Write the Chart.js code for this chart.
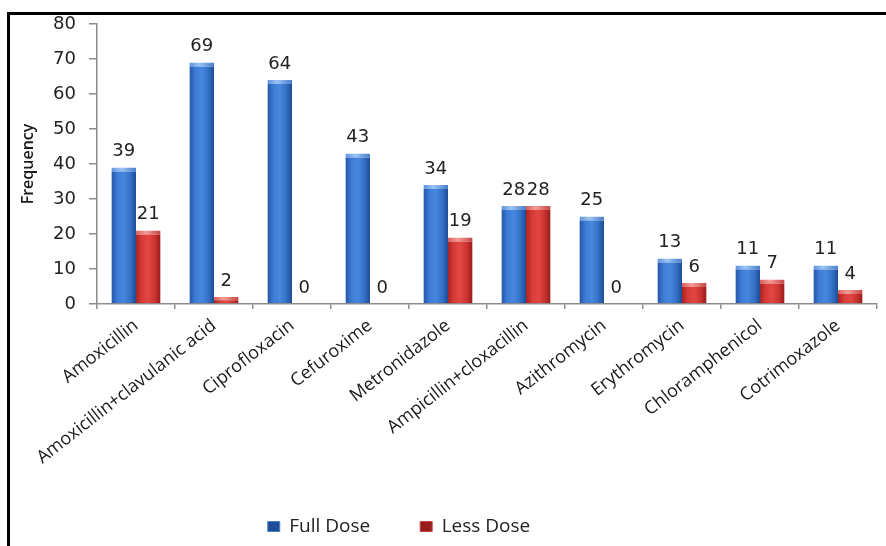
<!DOCTYPE html>
<html>
<head>
<meta charset="utf-8">
<script src="https://cdn.jsdelivr.net/npm/chart.js@4/dist/chart.umd.min.js"></script>
<style>
  html, body { margin: 0; padding: 0; background: #fff; }
  body { width: 886px; height: 546px; position: relative; overflow: hidden; }
  #frame {
    position: absolute; left: 7px; top: 12px; width: 1000px; height: 700px;
    border-left: 3px solid #000; border-top: 3px solid #000;
    pointer-events: none;
  }
  #chart { position: absolute; left: 0; top: 0; }
</style>
</head>
<body>
<canvas id="chart" width="886" height="546"></canvas>
<div id="frame"></div>
<script>
// Antibiotics prescribed, split by full vs. reduced dose
const categories = [
  'Amoxicillin', 'Amoxicillin+clavulanic acid', 'Ciprofloxacin', 'Cefuroxime',
  'Metronidazole', 'Ampicillin+cloxacillin', 'Azithromycin', 'Erythromycin',
  'Chloramphenicol', 'Cotrimoxazole'
];
const fullDose = [39, 69, 64, 43, 34, 28, 25, 13, 11, 11];
const lessDose = [21, 2, 0, 0, 19, 28, 0, 6, 7, 4];
const yTicks = [0, 10, 20, 30, 40, 50, 60, 70, 80];

const CAT_PCT = 0.63;

// Cylinder-like horizontal shading across each bar
function barShade(stops, solid) {
  return (c) => {
    const chart = c.chart;
    const xs = chart.scales && chart.scales.x;
    if (c.type !== 'data' || !xs || !xs.width) return solid;
    const barW = (xs.width / categories.length) * CAT_PCT / 2;
    const mid = xs.getPixelForValue(c.dataIndex);
    const left = c.datasetIndex === 0 ? mid - barW : mid;
    const g = chart.ctx.createLinearGradient(left, 0, left + barW, 0);
    stops.forEach(([p, col]) => g.addColorStop(p, col));
    return g;
  };
}

const blueStops = [[0, '#2356a8'], [0.25, '#3e7dd6'], [0.5, '#4787de'], [0.75, '#3673c8'], [1, '#1d4c98']];
const redStops  = [[0, '#a82422'], [0.25, '#d93c38'], [0.5, '#e24743'], [0.75, '#cc3431'], [1, '#961d1b']];
const blueCap   = [[0, '#5f93dc'], [0.4, '#9cc3f4'], [1, '#4a7fca']];
const redCap    = [[0, '#dc5f5b'], [0.4, '#f59c98'], [1, '#c44541']];

// Value printed above every bar
const valueLabels = {
  id: 'valueLabels',
  afterDatasetsDraw(chart) {
    const ctx = chart.ctx;
    ctx.save();
    ctx.font = '18px "DejaVu Sans"';
    ctx.fillStyle = '#222';
    ctx.textAlign = 'center';
    ctx.textBaseline = 'middle';
    chart.data.datasets.forEach((ds, di) => {
      chart.getDatasetMeta(di).data.forEach((bar, i) => {
        ctx.fillText(String(ds.data[i]), bar.x, bar.y - 16);
      });
    });
    ctx.restore();
  }
};

// Centre the legend under the left part of the plot
const legendPlace = {
  id: 'legendPlace',
  afterLayout(chart) {
    const lg = chart.legend;
    if (!lg) return;
    const centre = 399, w = 760;
    lg.left = centre - w / 2;
    lg.right = centre + w / 2;
    lg.width = w;
  }
};

new Chart(document.getElementById('chart'), {
  type: 'bar',
  data: {
    labels: categories,
    datasets: [
      {
        label: 'Full Dose',
        data: fullDose,
        backgroundColor: barShade(blueStops, '#3a78d0'),
        borderColor: barShade(blueCap, '#8fb6ec'),
        borderWidth: { top: 4, left: 0, right: 0, bottom: 0 },
        borderSkipped: false
      },
      {
        label: 'Less Dose',
        data: lessDose,
        backgroundColor: barShade(redStops, '#d03a36'),
        borderColor: barShade(redCap, '#f08a86'),
        borderWidth: { top: 4, left: 0, right: 0, bottom: 0 },
        borderSkipped: false
      }
    ]
  },
  options: {
    responsive: false,
    animation: false,
    devicePixelRatio: 1,
    layout: { padding: { left: 14, top: 24, right: 9, bottom: 0 } },
    datasets: { bar: { categoryPercentage: CAT_PCT, barPercentage: 1 } },
    plugins: {
      legend: {
        position: 'bottom',
        labels: {
          boxWidth: 12,
          boxHeight: 10,
          padding: 50,
          color: '#222',
          font: { family: '"Open Sans"', size: 19 }
        }
      },
      tooltip: { enabled: false }
    },
    scales: {
      x: {
        offset: true,
        grid: { offset: true, drawOnChartArea: false, color: '#8c8c8c', lineWidth: 1.5, tickLength: 5 },
        border: { color: '#8c8c8c', width: 1.5 },
        ticks: {
          autoSkip: false,
          minRotation: 38,
          maxRotation: 38,
          padding: 6,
          color: '#1a1a1a',
          font: { family: '"Open Sans"', size: 18 }
        },
        afterFit: (s) => { s.height = 163; }
      },
      y: {
        min: 0,
        max: 80,
        afterBuildTicks: (s) => { s.ticks = yTicks.map(v => ({ value: v })); },
        grid: { drawOnChartArea: false, color: '#8c8c8c', lineWidth: 1.5, tickLength: 8 },
        border: { color: '#8c8c8c', width: 1.5 },
        ticks: {
          padding: 13,
          color: '#222',
          font: { family: '"DejaVu Sans"', size: 18 }
        },
        title: {
          display: true,
          text: 'Frequency',
          color: '#1a1a1a',
          padding: { top: 5, bottom: 0 },
          font: { family: '"Open Sans"', size: 16, weight: '600' }
        },
        afterFit: (s) => { s.width = 83; }
      }
    }
  },
  plugins: [valueLabels, legendPlace]
});
</script>
</body>
</html>
